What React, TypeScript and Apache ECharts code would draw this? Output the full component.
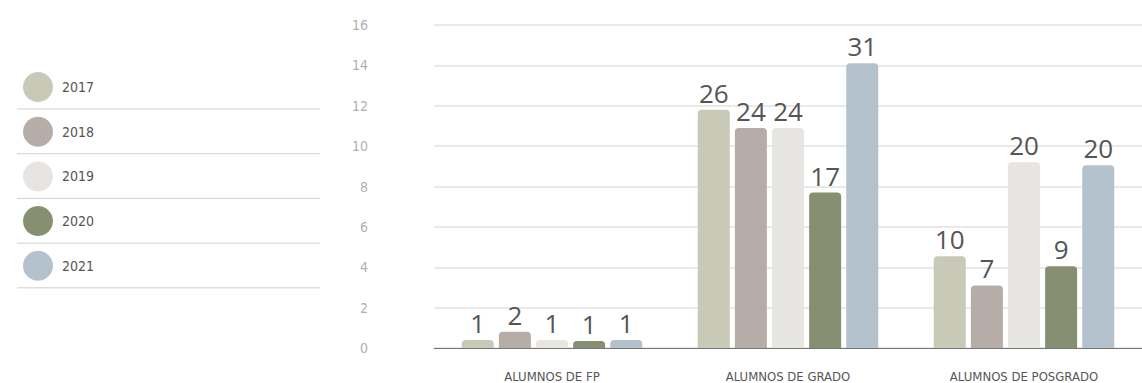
import React, { useEffect, useRef } from "react";
import * as echarts from "echarts";

const categories = ["ALUMNOS DE FP", "ALUMNOS DE GRADO", "ALUMNOS DE POSGRADO"];
const years = ["2017", "2018", "2019", "2020", "2021"];
const colors = ["#c8c9b6", "#b6ada8", "#e6e5e1", "#878f72", "#b4c2ce"];

// bar heights
const heights2017 = [0.4, 11.8, 4.55];
const heights2018 = [0.8, 10.9, 3.1];
const heights2019 = [0.4, 10.9, 9.2];
const heights2020 = [0.35, 7.7, 4.05];
const heights2021 = [0.4, 14.1, 9.05];

// numbers printed above the bars
const labels2017 = [1, 26, 10];
const labels2018 = [2, 24, 7];
const labels2019 = [1, 24, 20];
const labels2020 = [1, 17, 9];
const labels2021 = [1, 31, 20];

const yTicks = { min: 0, max: 16, interval: 2 };

export default function App() {
  const ref = useRef<HTMLDivElement>(null);
  useEffect(() => {
    if (!ref.current) return;
    const chart = echarts.init(ref.current, undefined, { renderer: "svg" });
    const heights = [heights2017, heights2018, heights2019, heights2020, heights2021];
    const labels = [labels2017, labels2018, labels2019, labels2020, labels2021];
    const legendTop = 72;
    const legendStep = 44.7;
    const sepLines = years.map((_, i) => ({
      type: "line",
      shape: { x1: 17, y1: legendTop + 37 + i * legendStep, x2: 320, y2: legendTop + 37 + i * legendStep },
      style: { stroke: "#d0d0d0", lineWidth: 1 },
    }));
    chart.setOption({
      animation: false,
      grid: { left: 434, width: 716, top: 25, bottom: 35, containLabel: false },
      legend: {
        orient: "vertical",
        left: 18,
        top: legendTop - 5,
        icon: "circle",
        itemWidth: 30,
        itemHeight: 30,
        itemGap: 14.7,
        data: years,
        textStyle: {
          color: "#555",
          fontSize: 14,
          fontFamily: "'Liberation Sans Narrow', 'DejaVu Sans Condensed', sans-serif",
          padding: [0, 0, 0, 4],
        },
      },
      graphic: sepLines,
      xAxis: {
        type: "category",
        data: categories,
        axisLine: { lineStyle: { color: "#777", width: 1 } },
        axisTick: { show: false },
        axisLabel: {
          color: "#555",
          fontSize: 13,
          margin: 22,
          fontFamily: "'Liberation Sans Narrow', 'DejaVu Sans Condensed', sans-serif",
        },
      },
      yAxis: {
        type: "value",
        min: yTicks.min,
        max: yTicks.max,
        interval: yTicks.interval,
        axisLine: { show: false },
        axisTick: { show: false },
        splitLine: { lineStyle: { color: "#e2e2e2", width: 1.5 } },
        axisLabel: {
          color: "#b0b0b0",
          fontSize: 14,
          margin: 66,
          fontFamily: "'Liberation Sans Narrow', 'DejaVu Sans Condensed', sans-serif",
        },
      },
      series: years.map((y, i) => ({
        name: y,
        type: "bar",
        data: heights[i],
        barWidth: 32,
        barGap: "16%",
        itemStyle: { color: colors[i], borderRadius: [4, 4, 0, 0] },
        label: {
          show: true,
          position: "top",
          distance: 4,
          color: "#555",
          fontSize: 26,
          fontFamily: "'Open Sans', sans-serif",
          fontWeight: "normal",
          formatter: (p: any) => String(labels[i][p.dataIndex]),
        },
      })),
    });
    return () => chart.dispose();
  }, []);
  return (
    <div
      ref={ref}
      style={{ position: "absolute", left: 0, top: 0, width: 1142, height: 383, background: "#fff" }}
    />
  );
}
